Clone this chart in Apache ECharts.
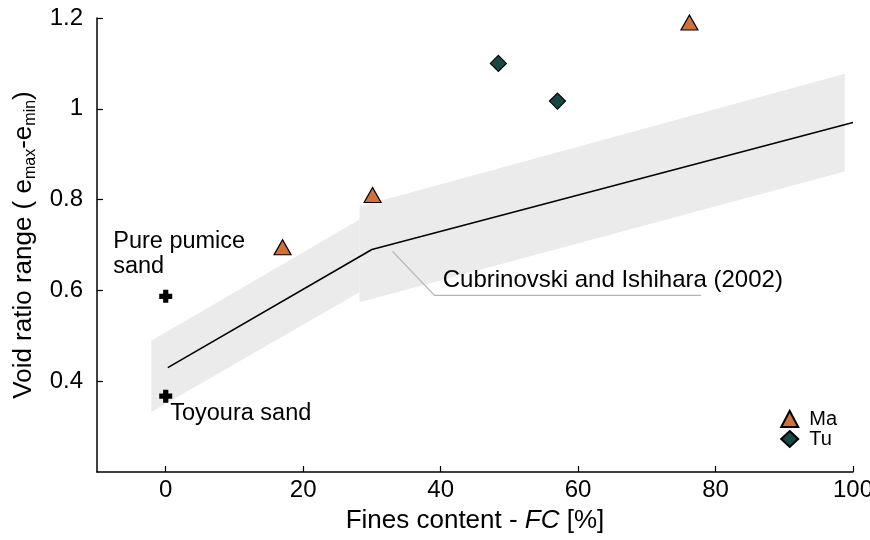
<!DOCTYPE html>
<html><head><meta charset="utf-8">
<script src="https://cdn.jsdelivr.net/npm/echarts@6/dist/echarts.min.js"></script>
<style>html,body{margin:0;padding:0;background:#fff}#c{width:870px;height:540px}</style>
</head><body><div id="c"></div>
<script>
// ---- data ----
const xTicks = [0, 20, 40, 60, 80, 100];
const maData = [[17, 0.695], [30.1, 0.81], [76.2, 1.19]];
const tuData = [[48.4, 1.10], [57.0, 1.017]];
const pumice = [[0, 0.587]];
const toyoura = [[0, 0.367]];
const fitLine = [[0.3, 0.43], [30, 0.69], [100, 0.97]];
const band1X = [-2.1, 28.2];
const band1Upper = [0.489, 0.756];
const band1Lower = [0.332, 0.596];
const band2X = [28.2, 98.8];
const band2Upper = [0.785, 1.077];
const band2Lower = [0.574, 0.862];
const leader = [[33.0, 0.686], [39.1, 0.589], [77.9, 0.589]];
const refLabelPos = [[40.3, 0.622]];
const refLabel = 'Cubrinovski and Ishihara (2002)';

const FONT = '"Liberation Sans", Arial, sans-serif';
const bands = [
  {x: band1X, up: band1Upper, lo: band1Lower},
  {x: band2X, up: band2Upper, lo: band2Lower}
];
const PLUS = 'path://M3,0H7V3H10V7H7V10H3V7H0V3H3Z';

const chart = echarts.init(document.getElementById('c'));
chart.setOption({
  animation: false,
  textStyle: {fontFamily: FONT},
  grid: {left: 97, right: 17, top: 18, bottom: 68, containLabel: false, outerBoundsMode: 'none'},
  xAxis: {
    type: 'value', min: -10, max: 100,
    name: '{n|Fines content - }{i|FC}{n| [%]}',
    nameLocation: 'middle', nameGap: 36,
    nameTextStyle: {rich: {
      n: {fontSize: 26, fontFamily: FONT, color: '#000'},
      i: {fontSize: 26, fontFamily: FONT, fontStyle: 'italic', color: '#000'}
    }},
    axisLine: {onZero: false, lineStyle: {color: '#000', width: 1.5}},
    axisTick: {inside: true, length: 6, customValues: xTicks, lineStyle: {color: '#000', width: 1.2}},
    axisLabel: {customValues: xTicks, fontSize: 24, color: '#000', margin: 6, fontFamily: FONT},
    splitLine: {show: false}
  },
  yAxis: {
    type: 'value', min: 0.2, max: 1.2, interval: 0.2,
    name: '{n|Void ratio range ( e}{s|max}{n|-e}{s|min}{n|)}',
    nameLocation: 'middle', nameGap: 54, nameRotate: 90,
    nameTextStyle: {rich: {
      n: {fontSize: 26, fontFamily: FONT, color: '#000'},
      s: {fontSize: 16, fontFamily: FONT, color: '#000', padding: [14, 0, 0, 0]}
    }},
    axisLine: {show: true, onZero: false, lineStyle: {color: '#000', width: 1.5}},
    axisTick: {show: true, inside: true, length: 6, lineStyle: {color: '#000', width: 1.2}},
    axisLabel: {showMinLabel: false, fontSize: 24, color: '#000', margin: 14, fontFamily: FONT},
    splitLine: {show: false}
  },
  legend: {
    orient: 'vertical', right: 28, bottom: 86, itemGap: 0,
    itemWidth: 17, itemHeight: 16,
    textStyle: {fontSize: 20, color: '#000', fontFamily: FONT, padding: [0, 0, 0, 6]},
    data: ['Ma', 'Tu']
  },
  series: [
    {
      type: 'custom', name: 'band', silent: true, z: 1,
      data: bands.map((b, i) => [i]),
      renderItem: function (params, api) {
        const b = bands[params.dataIndex];
        const pts = [];
        for (let k = 0; k < b.x.length; k++) pts.push(api.coord([b.x[k], b.up[k]]));
        for (let k = b.x.length - 1; k >= 0; k--) pts.push(api.coord([b.x[k], b.lo[k]]));
        return {type: 'polygon', shape: {points: pts}, style: {fill: '#ebebeb'}};
      }
    },
    {
      type: 'line', name: 'fit', data: fitLine, symbol: 'none', z: 3,
      lineStyle: {color: '#000', width: 1.6}
    },
    {
      type: 'line', name: 'leader', data: leader, symbol: 'none', z: 3,
      lineStyle: {color: '#b4b4b4', width: 1.3}
    },
    {
      type: 'scatter', name: 'refLabel', data: refLabelPos, symbolSize: 0, z: 4,
      itemStyle: {opacity: 1},
      label: {show: true, position: 'right', distance: 0, formatter: refLabel,
        fontSize: 24, color: '#000', fontFamily: FONT}
    },
    {
      type: 'scatter', name: 'pumice', data: pumice, z: 5,
      symbol: PLUS, symbolSize: 13,
      itemStyle: {color: '#000', opacity: 1},
      label: {show: true, formatter: 'Pure pumice\nsand', position: [-46, -61],
        align: 'left', verticalAlign: 'top',
        fontSize: 23.5, lineHeight: 25, color: '#000', fontFamily: FONT}
    },
    {
      type: 'scatter', name: 'toyoura', data: toyoura, z: 5,
      symbol: PLUS, symbolSize: 13,
      itemStyle: {color: '#000', opacity: 1},
      label: {show: true, formatter: 'Toyoura sand', position: [11, 11],
        align: 'left', verticalAlign: 'top',
        fontSize: 23.5, lineHeight: 26, color: '#000', fontFamily: FONT}
    },
    {
      type: 'scatter', name: 'Ma', data: maData, z: 6,
      symbol: 'triangle', symbolSize: [17, 15],
      itemStyle: {color: '#d0703c', borderColor: '#000', borderWidth: 1.2, opacity: 1}
    },
    {
      type: 'scatter', name: 'Tu', data: tuData, z: 6,
      symbol: 'diamond', symbolSize: 16,
      itemStyle: {color: '#174842', borderColor: '#000', borderWidth: 1.2, opacity: 1}
    }
  ]
});
</script>
</body></html>
